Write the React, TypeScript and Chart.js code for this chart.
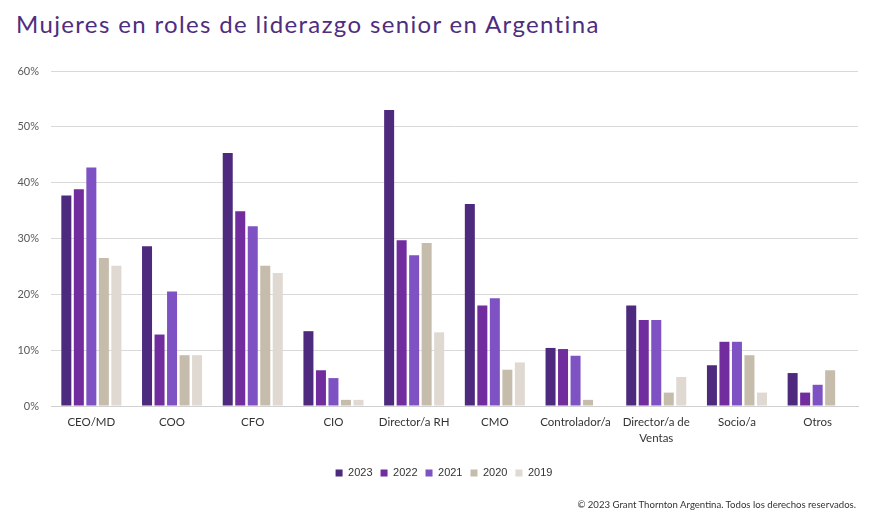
import React, { useEffect, useRef } from "react";
import { Chart, registerables } from "chart.js";

Chart.register(...registerables);

const categories: (string | string[])[] = [
  "CEO/MD",
  "COO",
  "CFO",
  "CIO",
  "Director/a RH",
  "CMO",
  "Controlador/a",
  ["Director/a de", "Ventas"],
  "Socio/a",
  "Otros",
];

const years = ["2023", "2022", "2021", "2020", "2019"];

const values2023 = [37.7, 28.6, 45.3, 13.4, 53.0, 36.2, 10.4, 18.0, 7.3, 5.9];
const values2022 = [38.8, 12.8, 34.9, 6.4, 29.7, 18.0, 10.2, 15.4, 11.5, 2.4];
const values2021 = [42.7, 20.5, 32.2, 5.0, 27.0, 19.3, 9.0, 15.4, 11.5, 3.8];
const values2020 = [26.5, 9.1, 25.1, 1.1, 29.2, 6.5, 1.1, 2.4, 9.1, 6.4];
const values2019 = [25.1, 9.1, 23.8, 1.1, 13.2, 7.8, null, 5.2, 2.4, null];

const yTicks = [0, 10, 20, 30, 40, 50, 60];

const seriesColors = ["#4d2a7e", "#712c9e", "#7f52c3", "#c6bcac", "#dfd9d1"];

const legendShift = {
  id: "legendShift",
  afterLayout(chart: any) {
    if (chart.legend) {
      chart.legend.left += 15;
      chart.legend.right += 15;
    }
  },
};

export default function App() {
  const canvasRef = useRef<HTMLCanvasElement | null>(null);

  useEffect(() => {
    if (!canvasRef.current) return;
    const seriesValues = [values2023, values2022, values2021, values2020, values2019];
    const chart = new Chart(canvasRef.current, {
      type: "bar",
      data: {
        labels: categories,
        datasets: years.map((y, i) => ({
          label: y,
          data: seriesValues[i],
          backgroundColor: seriesColors[i],
          borderWidth: 0,
          categoryPercentage: 0.775,
          barPercentage: 0.8,
        })),
      },
      plugins: [legendShift],
      options: {
        responsive: false,
        animation: false,
        maintainAspectRatio: false,
        layout: { padding: { top: 71, right: 22, bottom: 31.5, left: 0 } },
        plugins: {
          title: { display: false },
          tooltip: { enabled: false },
          legend: {
            display: true,
            position: "bottom",
            labels: {
              boxWidth: 7,
              boxHeight: 7,
              padding: 8,
              color: "#333333",
              font: { family: "'Liberation Sans', Arial, sans-serif", size: 11 },
            },
          },
        },
        scales: {
          x: {
            grid: { display: false, drawTicks: false },
            border: { display: true, color: "#d0d0d0", width: 1 },
            ticks: {
              color: "#333333",
              padding: 8,
              maxRotation: 0,
              autoSkip: false,
              font: { family: "Lato, sans-serif", size: 11.5, lineHeight: 1.4 },
            },
            afterFit: (scale: any) => {
              scale.height = 53.5;
            },
          },
          y: {
            min: 0,
            max: 60,
            afterBuildTicks: (scale: any) => {
              scale.ticks = yTicks.map((v) => ({ value: v }));
            },
            grid: { color: "#d9d9d9", lineWidth: 1, drawTicks: false },
            border: { display: false },
            ticks: {
              color: "#595959",
              padding: 12,
              font: { family: "Lato, sans-serif", size: 11 },
              callback: (v: any) => `${v}%`,
            },
            afterFit: (scale: any) => {
              scale.width = 51;
            },
          },
        },
      },
    });
    return () => chart.destroy();
  }, []);

  return (
    <div style={{ position: "absolute", left: 0, top: 0, width: 880, height: 520, background: "#ffffff", overflow: "hidden" }}>
      <div
        style={{
          position: "absolute",
          left: 16,
          top: 9,
          fontFamily: "Lato, sans-serif",
          fontSize: 24,
          letterSpacing: 1.35,
          color: "#4f2d7f",
          whiteSpace: "nowrap",
          lineHeight: "normal",
        }}
      >
        Mujeres en roles de liderazgo senior en Argentina
      </div>
      <canvas ref={canvasRef} width={880} height={520} style={{ position: "absolute", left: 0, top: 0 }} />
      <div
        style={{
          position: "absolute",
          right: 24,
          top: 499,
          fontFamily: "Lato, sans-serif",
          fontSize: 9.6,
          color: "#333333",
          whiteSpace: "nowrap",
        }}
      >
        © 2023 Grant Thornton Argentina. Todos los derechos reservados.
      </div>
    </div>
  );
}
